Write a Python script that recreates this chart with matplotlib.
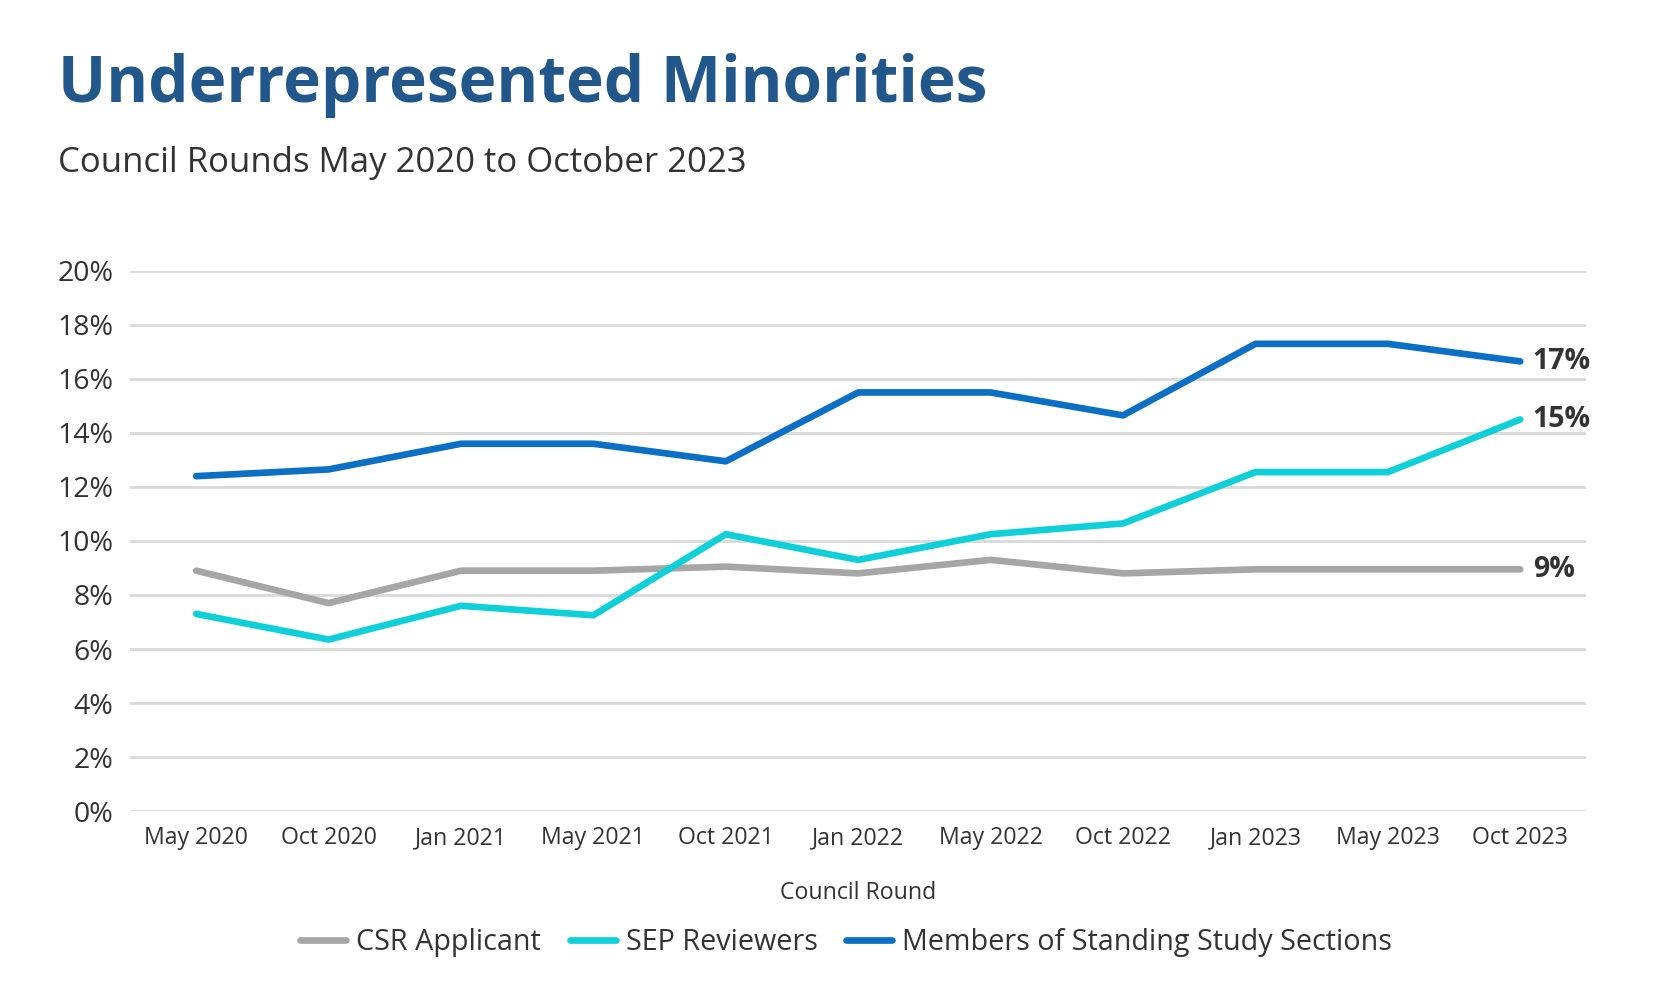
import matplotlib.pyplot as plt
from matplotlib.ticker import FuncFormatter

plt.rcParams['font.family'] = ['Open Sans', 'DejaVu Sans']

# council rounds on the x axis
rounds = ['May 2020', 'Oct 2020', 'Jan 2021', 'May 2021', 'Oct 2021', 'Jan 2022',
          'May 2022', 'Oct 2022', 'Jan 2023', 'May 2023', 'Oct 2023']

# percentages
csr_applicant = [8.9, 7.7, 8.9, 8.9, 9.05, 8.8, 9.3, 8.8, 8.95, 8.95, 8.95]
sep_reviewers = [7.3, 6.35, 7.6, 7.25, 10.25, 9.3, 10.25, 10.65, 12.55, 12.55, 14.5]
standing_members = [12.4, 12.65, 13.6, 13.6, 12.95, 15.5, 15.5, 14.65, 17.3, 17.3, 16.65]

series_names = ['CSR Applicant', 'SEP Reviewers', 'Members of Standing Study Sections']
end_labels = ['9%', '15%', '17%']
colors = ['#A6A6A6', '#0FD0D8', '#0B6FC6']

fig = plt.figure(figsize=(16.56, 9.96), dpi=100)
ax = fig.add_axes([0.0785, 0.1857, 0.8795, 0.5423])

x = list(range(len(rounds)))
for vals, name, col, lab in zip([csr_applicant, sep_reviewers, standing_members],
                                series_names, colors, end_labels):
    ax.plot(x, vals, color=col, lw=4.8, label=name, solid_capstyle='round',
            solid_joinstyle='round', clip_on=False, zorder=3)
    ax.annotate(lab, (x[-1], vals[-1]), xytext=(9, 0), textcoords='offset points',
                va='center', ha='left', fontsize=20.5, fontweight='bold', color='#333333')

ax.set_xlim(-0.5, len(rounds) - 0.5)
ax.set_ylim(0, 20)
ax.set_yticks(range(0, 21, 2))
ax.yaxis.set_major_formatter(FuncFormatter(lambda v, p: f'{int(v)}%'))
ax.set_xticks(x)
ax.set_xticklabels(rounds)
ax.grid(axis='y', color='#D9D9D9', lw=2)
ax.set_axisbelow(True)
for s in ax.spines.values():
    s.set_visible(False)
ax.tick_params(axis='y', length=0, labelsize=20.5, labelcolor='#333333', pad=12)
ax.tick_params(axis='x', length=0, labelsize=16.7, labelcolor='#333333', pad=11)
ax.set_xlabel('Council Round', fontsize=16.7, color='#333333', labelpad=22)

fig.legend(loc='center', bbox_to_anchor=(0.511, 0.054), ncol=3, frameon=False,
           fontsize=20.7, handlelength=1.6, handletextpad=0.35, columnspacing=1.0,
           labelcolor='#333333')

fig.text(0.035, 0.914, 'Underrepresented Minorities', fontsize=46, fontweight='bold',
         color='#21578A', va='center')
fig.text(0.035, 0.836, 'Council Rounds May 2020 to October 2023', fontsize=25,
         color='#333333', va='center')

fig.savefig('out.png', dpi=100)
